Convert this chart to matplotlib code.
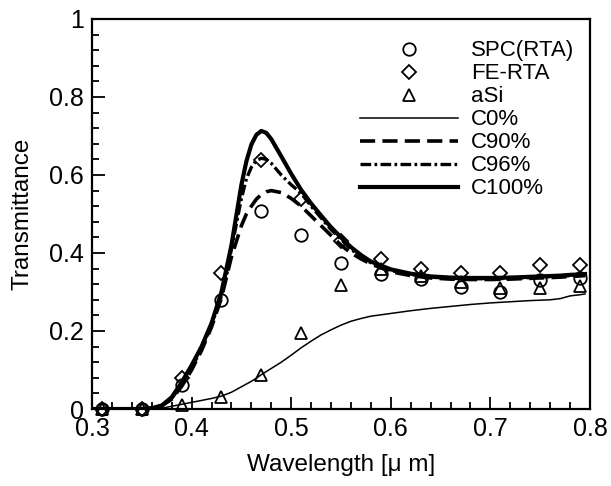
import matplotlib
matplotlib.use("Agg")
import matplotlib.pyplot as plt
from matplotlib.ticker import MultipleLocator

plt.rcParams['font.family'] = ['Liberation Sans', 'DejaVu Sans']

# Measured points
wl_pts = [0.31, 0.35, 0.39, 0.43, 0.47, 0.51, 0.55, 0.59, 0.63, 0.67, 0.71, 0.75, 0.79]
spc_rta = [0.0, 0.0, 0.062, 0.28, 0.508, 0.446, 0.374, 0.346, 0.333, 0.313, 0.30, 0.33, 0.335]
fe_rta = [0.0, 0.0, 0.08, 0.35, 0.638, 0.538, 0.43, 0.385, 0.36, 0.349, 0.35, 0.37, 0.37]
asi = [0.0, 0.0, 0.01, 0.031, 0.087, 0.195, 0.318, 0.36, 0.34, 0.325, 0.31, 0.31, 0.315]

# Simulated curves
wl_c = [0.30, 0.32, 0.34, 0.35, 0.36, 0.37, 0.38, 0.39, 0.40, 0.41, 0.42, 0.43, 0.44,
        0.45, 0.455, 0.46, 0.465, 0.47, 0.475, 0.48, 0.49, 0.50, 0.51, 0.52, 0.53, 0.54,
        0.55, 0.56, 0.57, 0.58, 0.60, 0.62, 0.64, 0.66, 0.68, 0.70, 0.72, 0.74, 0.76,
        0.77, 0.78, 0.79, 0.795]
c0 = [0.0, 0.0, 0.0, 0.0, 0.0, 0.002, 0.007, 0.012, 0.017, 0.022, 0.027, 0.033, 0.043,
      0.057, 0.064, 0.071, 0.079, 0.088, 0.096, 0.104, 0.12, 0.138, 0.157, 0.174, 0.19,
      0.203, 0.215, 0.225, 0.232, 0.238, 0.245, 0.252, 0.258, 0.263, 0.268, 0.272,
      0.275, 0.278, 0.280, 0.283, 0.29, 0.293, 0.295]
c90 = [0.0, 0.0, 0.0, 0.0, 0.002, 0.008, 0.025, 0.058, 0.10, 0.15, 0.21, 0.285, 0.39,
       0.47, 0.50, 0.52, 0.538, 0.55, 0.557, 0.56, 0.555, 0.54, 0.52, 0.495, 0.47,
       0.445, 0.42, 0.40, 0.385, 0.372, 0.352, 0.342, 0.336, 0.333, 0.332, 0.332,
       0.333, 0.335, 0.337, 0.338, 0.34, 0.341, 0.342]
c96 = [0.0, 0.0, 0.0, 0.0, 0.002, 0.008, 0.027, 0.062, 0.105, 0.155, 0.215, 0.29, 0.41,
       0.54, 0.59, 0.62, 0.637, 0.643, 0.64, 0.63, 0.60, 0.575, 0.553, 0.52, 0.49,
       0.46, 0.435, 0.41, 0.39, 0.375, 0.355, 0.345, 0.338, 0.335, 0.334, 0.334,
       0.335, 0.337, 0.339, 0.34, 0.342, 0.343, 0.344]
c100 = [0.0, 0.0, 0.0, 0.0, 0.002, 0.009, 0.03, 0.068, 0.112, 0.16, 0.22, 0.30, 0.42,
        0.575, 0.635, 0.678, 0.703, 0.713, 0.708, 0.692, 0.648, 0.603, 0.562, 0.527,
        0.496, 0.466, 0.44, 0.415, 0.395, 0.378, 0.358, 0.347, 0.34, 0.337, 0.336,
        0.336, 0.337, 0.339, 0.341, 0.342, 0.344, 0.345, 0.346]

fig = plt.figure(figsize=(6.11, 4.86), dpi=100)
ax = fig.add_axes([92/611, 1 - 409/486, 498/611, 390/486])

mk = dict(linestyle='none', markerfacecolor='none', markeredgecolor='black',
          markeredgewidth=1.3, clip_on=False, zorder=4)
ax.plot(wl_pts, spc_rta, marker='o', markersize=9, label='SPC(RTA)', **mk)
ax.plot(wl_pts, fe_rta, marker='D', markersize=7.5, label='FE-RTA', **mk)
ax.plot(wl_pts, asi, marker='^', markersize=8, label='aSi', **mk)

ax.plot(wl_c, c0, color='black', linewidth=1.1, label='C0%')
ax.plot(wl_c, c90, color='black', linewidth=2.6, linestyle=(0, (4.2, 2.0)), label='C90%')
ax.plot(wl_c, c96, color='black', linewidth=2.4, linestyle=(0, (3.2, 1.0, 0.8, 1.0)), label='C96%')
ax.plot(wl_c, c100, color='black', linewidth=3.0, label='C100%')

ax.set_xlim(0.3, 0.8)
ax.set_ylim(0, 1)
ax.xaxis.set_major_locator(MultipleLocator(0.1))
ax.xaxis.set_minor_locator(MultipleLocator(0.02))
ax.yaxis.set_major_locator(MultipleLocator(0.2))
ax.yaxis.set_minor_locator(MultipleLocator(0.04))
ax.set_xticks([0.3, 0.4, 0.5, 0.6, 0.7, 0.8])
ax.set_xticklabels(['0.3', '0.4', '0.5', '0.6', '0.7', '0.8'])
ax.set_yticks([0, 0.2, 0.4, 0.6, 0.8, 1.0])
ax.set_yticklabels(['0', '0.2', '0.4', '0.6', '0.8', '1'])
ax.tick_params(which='both', direction='in', top=False, right=False, width=1.3,
               labelsize=18)
ax.tick_params(axis='x', pad=6)
ax.tick_params(axis='y', pad=6)
ax.tick_params(which='major', length=9)
ax.tick_params(which='minor', length=5)
for s in ax.spines.values():
    s.set_linewidth(1.6)

ax.set_xlabel('Wavelength [\u03bc m]', fontsize=17.5, labelpad=9)
ax.set_ylabel('Transmittance', fontsize=17.5, labelpad=11)

leg = ax.legend(loc='upper left', bbox_to_anchor=(0.538, 0.945), frameon=False,
                fontsize=16, handlelength=4.4, handletextpad=0.6, labelspacing=0.09,
                borderpad=0, borderaxespad=0, numpoints=1)

fig.savefig('out.png', dpi=100)
